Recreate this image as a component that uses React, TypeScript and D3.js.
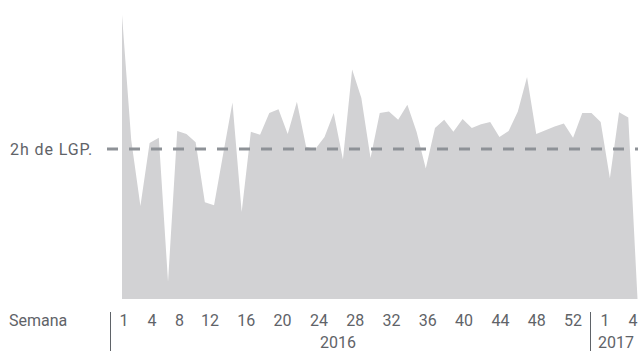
import React from "react";
import * as d3 from "d3";

// Weekly average hours (2016 weeks 1–52, then 2017 weeks 1–5)
const weeks2016 = [1,2,3,4,5,6,7,8,9,10,11,12,13,14,15,16,17,18,19,20,21,22,23,24,25,26,27,28,29,30,31,32,33,34,35,36,37,38,39,40,41,42,43,44,45,46,47,48,49,50,51,52];
const weeks2017 = [1,2,3,4,5];
const hours2016 = [3.79,2.12,1.24,2.08,2.15,0.23,2.24,2.2,2.09,1.29,1.25,1.94,2.62,1.16,2.23,2.19,2.48,2.53,2.2,2.63,2.03,2.0,2.16,2.48,1.86,3.06,2.68,1.88,2.48,2.5,2.39,2.59,2.23,1.74,2.28,2.39,2.23,2.4,2.28,2.33,2.36,2.16,2.24,2.5,2.96,2.2,2.25,2.3,2.34,2.15,2.48,2.48];
const hours2017 = [2.36,1.61,2.49,2.42,0];

const tickLabels2016 = [1,4,8,12,16,20,24,28,32,36,40,44,48,52];
const tickLabels2017 = [1,4];
const years = ["2016","2017"];
const refValue = 2;
const refLabel = "2h de LGP.";
const axisTitle = "Semana";

const W = 638, H = 352;
const TEXT = "#5f6368";
const FONT = "Roboto, 'Noto Sans', sans-serif";

export default function App() {
  const values = [...hours2016, ...hours2017];
  const n = weeks2016.length + weeks2017.length;
  const x = d3.scaleLinear().domain([0, n - 1]).range([122, 637.5]);
  const y = d3.scaleLinear().domain([0, 4]).range([299, -1]);
  const area = d3
    .area<number>()
    .x((_, i) => x(i))
    .y0(y(0))
    .y1((d) => y(d));

  const lab16 = d3.scaleLinear().domain([1, 4, 8, 12, 52]).range([124, 152, 179.5, 210, 573]);
  const lab17 = d3.scaleLinear().domain([1, 4]).range([605, 633]);

  return (
    <svg
      width={W}
      height={H}
      style={{ position: "absolute", left: 0, top: 0, background: "#fff" }}
      fontFamily={FONT}
    >
      <path d={area(values) || ""} fill="#d2d2d4" />
      <line
        x1={107}
        x2={W}
        y1={y(refValue)}
        y2={y(refValue)}
        stroke="#8e9297"
        strokeWidth={3}
        strokeDasharray="11 11"
      />
      <text x={10} y={y(refValue) + 6} fontSize={16} fill={TEXT} letterSpacing={0.9}>
        {refLabel}
      </text>
      <text x={9} y={326} fontSize={16} fill={TEXT}>
        {axisTitle}
      </text>
      <line x1={110.5} x2={110.5} y1={312} y2={351} stroke={TEXT} strokeWidth={1} />
      <line x1={590.5} x2={590.5} y1={312} y2={351} stroke={TEXT} strokeWidth={1} />
      {tickLabels2016.map((t) => (
        <text key={"a" + t} x={lab16(t)} y={326} fontSize={16} fill={TEXT} textAnchor="middle">
          {t}
        </text>
      ))}
      {tickLabels2017.map((t) => (
        <text key={"b" + t} x={lab17(t)} y={326} fontSize={16} fill={TEXT} textAnchor="middle">
          {t}
        </text>
      ))}
      <text x={338} y={347.5} fontSize={16} fill={TEXT} textAnchor="middle">
        {years[0]}
      </text>
      <text x={616} y={347.5} fontSize={16} fill={TEXT} textAnchor="middle">
        {years[1]}
      </text>
    </svg>
  );
}
